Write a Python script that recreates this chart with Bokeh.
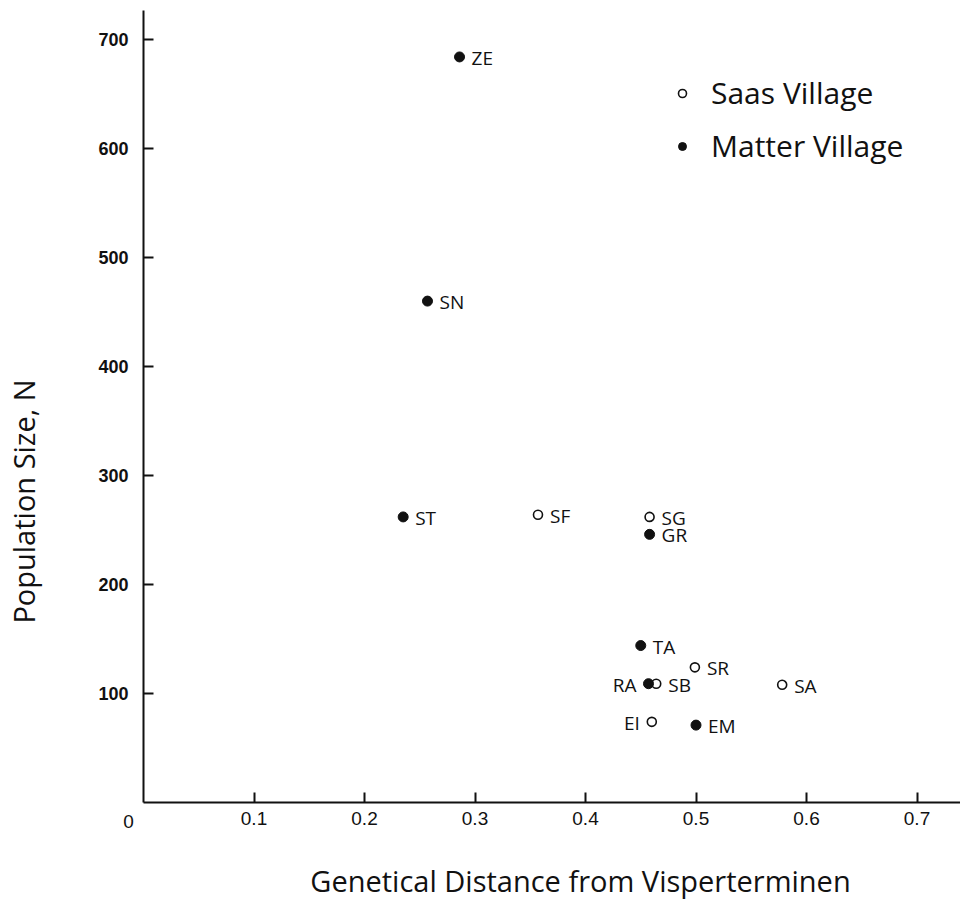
import math
from bokeh.plotting import figure
from bokeh.models import (ColumnDataSource, FixedTicker, Range1d, Label,
                          Legend, LegendItem)
from bokeh.core.properties import value
from bokeh.embed import file_html
from bokeh.resources import INLINE

# ---- data ----
villages = ["ZE", "SN", "ST", "SF", "SG", "GR", "TA", "SR", "RA", "SB", "SA", "EI", "EM"]
distance = [0.286, 0.257, 0.235, 0.357, 0.458, 0.458, 0.450, 0.499, 0.457, 0.464, 0.578, 0.460, 0.500]
population = [684, 460, 262, 264, 262, 246, 144, 124, 109, 109, 108, 74, 71]
group = ["Matter", "Matter", "Matter", "Saas", "Saas", "Matter", "Matter", "Saas",
         "Matter", "Saas", "Saas", "Saas", "Matter"]
x_ticks = [0.1, 0.2, 0.3, 0.4, 0.5, 0.6, 0.7]
y_ticks = [100, 200, 300, 400, 500, 600, 700]
origin_label = "0"
legend_labels = {"Saas": "Saas Village", "Matter": "Matter Village"}
x_title = "Genetical Distance from Visperterminen"
y_title = "Population Size, N"

# labels that sit to the left of their point (style choice)
left_side = {"RA", "EI"}

# ---- layout (pixels) ----
W, H = 960, 904
OX, OY = 143, 802          # pixel position of the data origin
PX_X = 1105.0              # pixels per unit of distance
PX_Y = 1.09                # pixels per unit of population
AXIS_TOP = 10              # top end of the y-axis line

FONT = "Open Sans"
INK = "#111111"


def subset(cond):
    idx = [i for i in range(len(villages)) if cond(i)]
    return ColumnDataSource(dict(
        x=[distance[i] for i in idx],
        y=[population[i] for i in idx],
        name=[villages[i] for i in idx],
    ))


x_lo, x_hi = -OX / PX_X, (W - OX) / PX_X
y_lo, y_hi = -(H - OY) / PX_Y, OY / PX_Y

p = figure(width=W, height=H,
           x_range=Range1d(x_lo, x_hi), y_range=Range1d(y_lo, y_hi),
           output_backend="svg", toolbar_location=None, title=None,
           min_border=0)
p.background_fill_color = "white"
p.border_fill_color = "white"
p.outline_line_color = None
p.grid.visible = False

# axes drawn at the data origin
xa, ya = p.xaxis[0], p.yaxis[0]
xa.fixed_location = 0
ya.fixed_location = 0
xa.bounds = (0, x_hi)
ya.bounds = (0, (OY - AXIS_TOP) / PX_Y)
for ax in (xa, ya):
    ax.axis_line_width = 2
    ax.axis_line_color = INK
    ax.major_tick_in = 10
    ax.major_tick_out = 0
    ax.major_tick_line_width = 2
    ax.major_tick_line_color = INK
    ax.minor_tick_line_color = None
    ax.major_label_text_color = INK
    ax.major_label_text_font = "Liberation Sans"

xa.ticker = FixedTicker(ticks=x_ticks)
ya.ticker = FixedTicker(ticks=y_ticks)
xa.major_label_text_font_size = "19px"
xa.major_label_standoff = 9
ya.major_label_text_font_size = "18px"
ya.major_label_text_font_style = "bold"
ya.major_label_standoff = 15

p.add_layout(Label(x=0, y=0, text=origin_label, x_offset=-15, y_offset=-19,
                   text_align="center", text_baseline="middle",
                   text_font="Liberation Sans", text_font_size="19px",
                   text_color=INK))

# axis titles (screen units: from left and from bottom of the plot area)
p.add_layout(Label(x=580, y=H - 880, x_units="screen", y_units="screen",
                   text=x_title, text_align="center", text_baseline="middle",
                   text_font=FONT, text_font_size="29px", text_color=INK))
p.add_layout(Label(x=23, y=H - 501, x_units="screen", y_units="screen",
                   angle=math.pi / 2, text=y_title, text_align="center",
                   text_baseline="middle",
                   text_font=FONT, text_font_size="29px", text_color=INK))

# points
saas_src = subset(lambda i: group[i] == "Saas")
matter_src = subset(lambda i: group[i] == "Matter")
r_saas = p.scatter("x", "y", source=saas_src, marker="circle", size=9,
                   fill_color="white", line_color=INK, line_width=1.6)
r_matter = p.scatter("x", "y", source=matter_src, marker="circle", size=10,
                     fill_color=INK, line_color=INK, line_width=1)

# point labels
right_src = subset(lambda i: villages[i] not in left_side)
left_src = subset(lambda i: villages[i] in left_side)
p.text("x", "y", text="name", source=right_src, x_offset=12, y_offset=1,
       text_align="left", text_baseline="middle", text_font=value(FONT),
       text_font_size="19px", text_color=INK)
p.text("x", "y", text="name", source=left_src, x_offset=-12, y_offset=1,
       text_align="right", text_baseline="middle", text_font=value(FONT),
       text_font_size="19px", text_color=INK)

# legend
legend = Legend(items=[LegendItem(label=legend_labels["Saas"], renderers=[r_saas]),
                       LegendItem(label=legend_labels["Matter"], renderers=[r_matter])],
                location=(672, 738), orientation="vertical",
                padding=0, margin=0, spacing=12,
                glyph_width=20, glyph_height=32, label_height=32,
                label_standoff=19, border_line_color=None,
                background_fill_alpha=0,
                label_text_font=FONT, label_text_font_size="30px",
                label_text_color=INK)
p.add_layout(legend, "center")

open("out.html", "w").write(file_html(p, INLINE))
